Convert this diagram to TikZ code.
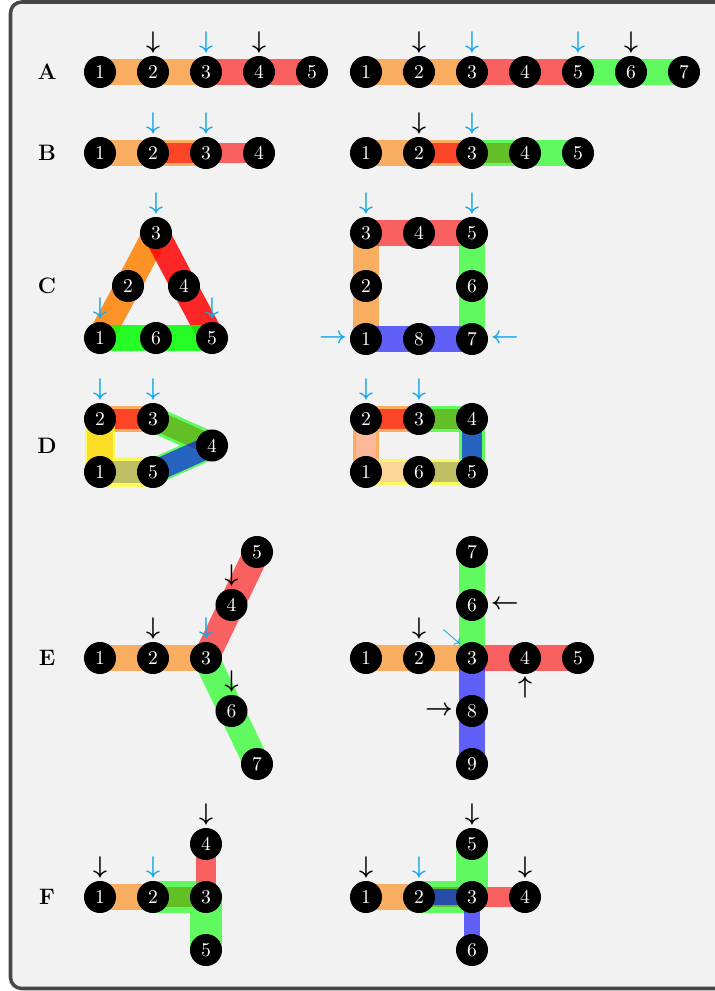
\RequirePackage{fix-cm}
\documentclass[tikz,border=0pt]{standalone}
\usetikzlibrary{calc}
\pgfdeclarelayer{bg}
\pgfdeclarelayer{back}
\pgfsetlayers{bg,back,main}
\definecolor{bgc}{HTML}{F2F2F2}
\definecolor{framec}{HTML}{474747}
\definecolor{arrc}{RGB}{20,168,235}
\definecolor{myorange}{RGB}{255,128,0}
\definecolor{myred}{RGB}{255,0,0}
\definecolor{mygreen}{RGB}{0,255,0}
\definecolor{myblue}{RGB}{0,0,255}
\definecolor{myyellow}{RGB}{255,255,0}
\definecolor{mypink}{RGB}{255,191,191}
\tikzset{
  st/.style={circle,fill=black,text=white,minimum size=17.2pt,inner sep=0pt,font=\fontsize{10.5}{12}\selectfont},
  rowlab/.style={font=\fontsize{12}{14}\selectfont\bfseries},
  rt/.style={line cap=round,line join=round,draw opacity=0.6},
  rtd/.style={line cap=round,line join=round,draw opacity=0.84},
  w26/.style={line width=13.95pt},
  w20/.style={line width=10.73pt},
  w32/.style={line width=17.17pt},
  w16/.style={line width=8.59pt},
  w30/.style={line width=16.1pt},
  w22/.style={line width=11.8pt},
  arrfont/.style={inner sep=0pt,font=\fontsize{13}{15}\selectfont\boldmath},
  dn/.style={arrfont,anchor=south,yshift=1.2pt},
  upa/.style={arrfont,anchor=north,yshift=-1.2pt},
  lefta/.style={arrfont,anchor=east,xshift=-1.2pt},
  righta/.style={arrfont,anchor=west,xshift=1.2pt},
  nwa/.style={inner sep=0pt,font=\fontsize{9}{11}\selectfont\boldmath,anchor=south east,xshift=0.8pt,yshift=0.8pt},
}
\newcommand\dnarr[2]{\node[dn,text=#2] (#1d) at (#1.north) {$\downarrow$};}
\begin{document}
\begin{tikzpicture}[x=0.018868cm,y=-0.018868cm]
\useasboundingbox (0,0) rectangle (715,991);
\begin{pgfonlayer}{bg}
\draw[framec,line width=1.9pt,fill=bgc,rounded corners=6pt] (10.5,2) rectangle (745,988.5);
\end{pgfonlayer}

% row labels
\node[rowlab] (LA) at (47,72) {A};
\node[rowlab] (LB) at (47,153) {B};
\node[rowlab] (LC) at (47,286) {C};
\node[rowlab] (LD) at (47,446) {D};
\node[rowlab] (LE) at (47,658) {E};
\node[rowlab] (LF) at (47,897) {F};

% ---------- nodes ----------
\foreach \i/\x in {1/100,2/153,3/206,4/259,5/312} \node[st] (A\i) at (\x,72) {\i};
\foreach \i/\x in {1/366,2/419,3/472,4/525,5/578,6/631,7/684} \node[st] (a\i) at (\x,72) {\i};
\foreach \i/\x in {1/100,2/153,3/206,4/259} \node[st] (B\i) at (\x,153) {\i};
\foreach \i/\x in {1/366,2/419,3/472,4/525,5/578} \node[st] (b\i) at (\x,153) {\i};
% C left
\node[st] (C1) at (100,338) {1};
\node[st] (C2) at (128,286) {2};
\node[st] (C3) at (156,233) {3};
\node[st] (C4) at (184,286) {4};
\node[st] (C5) at (212,338) {5};
\node[st] (C6) at (156,338) {6};
% C right
\node[st] (c3) at (366,233) {3};
\node[st] (c4) at (419,233) {4};
\node[st] (c5) at (472,233) {5};
\node[st] (c2) at (366,286) {2};
\node[st] (c6) at (472,286) {6};
\node[st] (c1) at (366,339) {1};
\node[st] (c8) at (419,339) {8};
\node[st] (c7) at (472,339) {7};
% D left
\node[st] (D2) at (100,419) {2};
\node[st] (D3) at (153,419) {3};
\node[st] (D4) at (212,445.5) {4};
\node[st] (D1) at (100,472) {1};
\node[st] (D5) at (153,472) {5};
% D right
\node[st] (d2) at (366,419) {2};
\node[st] (d3) at (419,419) {3};
\node[st] (d4) at (472,419) {4};
\node[st] (d1) at (366,472) {1};
\node[st] (d6) at (419,472) {6};
\node[st] (d5) at (472,472) {5};
% E left
\node[st] (E1) at (100,658) {1};
\node[st] (E2) at (153,658) {2};
\node[st] (E3) at (206,658) {3};
\node[st] (E4) at (231.5,605) {4};
\node[st] (E5) at (257,552) {5};
\node[st] (E6) at (231.5,711) {6};
\node[st] (E7) at (257,764) {7};
% E right
\foreach \i/\x in {1/366,2/419,3/472,4/525,5/578} \node[st] (e\i) at (\x,658) {\i};
\node[st] (e6) at (472,605) {6};
\node[st] (e7) at (472,552) {7};
\node[st] (e8) at (472,711) {8};
\node[st] (e9) at (472,764) {9};
% F left
\node[st] (F1) at (100,897) {1};
\node[st] (F2) at (153,897) {2};
\node[st] (F3) at (206,897) {3};
\node[st] (F4) at (206,844) {4};
\node[st] (F5) at (206,950) {5};
% F right
\node[st] (f1) at (366,897) {1};
\node[st] (f2) at (419,897) {2};
\node[st] (f3) at (472,897) {3};
\node[st] (f4) at (525,897) {4};
\node[st] (f5) at (472,844) {5};
\node[st] (f6) at (472,950) {6};

% ---------- routes ----------
\begin{pgfonlayer}{back}
% A
\draw[rt,w26,draw=myorange] (A1.center) -- (A2.center) -- (A3.center);
\draw[rt,w26,draw=myred] (A3.center) -- (A4.center) -- (A5.center);
\draw[rt,w26,draw=myorange] (a1.center) -- (a2.center) -- (a3.center);
\draw[rt,w26,draw=myred] (a3.center) -- (a4.center) -- (a5.center);
\draw[rt,w26,draw=mygreen] (a5.center) -- (a6.center) -- (a7.center);
% B
\draw[rt,w26,draw=myorange] (B1.center) -- (B2.center) -- (B3.center);
\draw[rt,w20,draw=myred] (B2.center) -- (B3.center) -- (B4.center);
\draw[rt,w26,draw=myorange] (b1.center) -- (b2.center) -- (b3.center);
\draw[rt,w20,draw=myred] (b2.center) -- (b3.center) -- (b4.center);
\draw[rt,w26,draw=mygreen] (b3.center) -- (b4.center) -- (b5.center);
% C
\draw[rtd,w26,draw=myorange] (C1.center) -- (C2.center) -- (C3.center);
\draw[rtd,w26,draw=myred] (C3.center) -- (C4.center) -- (C5.center);
\draw[rtd,w26,draw=mygreen] (C5.center) -- (C6.center) -- (C1.center);
\draw[rt,w26,draw=myorange] (c1.center) -- (c2.center) -- (c3.center);
\draw[rt,w26,draw=myred] (c3.center) -- (c4.center) -- (c5.center);
\draw[rt,w26,draw=mygreen] (c5.center) -- (c6.center) -- (c7.center);
\draw[rt,w26,draw=myblue] (c7.center) -- (c8.center) -- (c1.center);
% D left
\draw[rt,w26,draw=myorange] (D1.center) -- (D2.center) -- (D3.center);
\draw[rt,w20,draw=myred] (D2.center) -- (D3.center) -- (D4.center);
\draw[rt,w26,draw=mygreen] (D3.center) -- (D4.center) -- (D5.center);
\draw[rt,w22,draw=myblue] (D4.center) -- (D5.center) -- (D1.center);
\draw[rt,w30,draw=myyellow] (D5.center) -- (D1.center) -- (D2.center);
% D right
\draw[rt,w26,draw=myorange] (d1.center) -- (d2.center) -- (d3.center);
\draw[rt,w20,draw=myred] (d2.center) -- (d3.center) -- (d4.center);
\draw[rt,w26,draw=mygreen] (d3.center) -- (d4.center) -- (d5.center);
\draw[rt,w20,draw=myblue] (d4.center) -- (d5.center) -- (d6.center);
\draw[rt,w26,draw=myyellow] (d5.center) -- (d6.center) -- (d1.center);
\draw[rt,w20,draw=mypink] (d6.center) -- (d1.center) -- (d2.center);
% E
\draw[rt,w26,draw=myorange] (E1.center) -- (E2.center) -- (E3.center);
\draw[rt,w26,draw=myred] (E3.center) -- (E4.center) -- (E5.center);
\draw[rt,w26,draw=mygreen] (E3.center) -- (E6.center) -- (E7.center);
\draw[rt,w26,draw=myorange] (e1.center) -- (e2.center) -- (e3.center);
\draw[rt,w26,draw=myred] (e3.center) -- (e4.center) -- (e5.center);
\draw[rt,w26,draw=mygreen] (e3.center) -- (e6.center) -- (e7.center);
\draw[rt,w26,draw=myblue] (e3.center) -- (e8.center) -- (e9.center);
% F
\draw[rt,w26,draw=myorange] (F1.center) -- (F2.center);
\draw[rt,w20,draw=myred] (F2.center) -- (F3.center) -- (F4.center);
\draw[rt,w32,draw=mygreen] (F2.center) -- (F3.center) -- (F5.center);
\draw[rt,w26,draw=myorange] (f1.center) -- (f2.center);
\draw[rt,w20,draw=myred] (f2.center) -- (f3.center) -- (f4.center);
\draw[rt,w32,draw=mygreen] (f2.center) -- (f3.center) -- (f5.center);
\draw[rt,w16,draw=myblue] (f2.center) -- (f3.center) -- (f6.center);
\end{pgfonlayer}

% ---------- arrows ----------
\dnarr{A2}{black}\dnarr{A3}{arrc}\dnarr{A4}{black}
\dnarr{a2}{black}\dnarr{a3}{arrc}\dnarr{a5}{arrc}\dnarr{a6}{black}
\dnarr{B2}{arrc}\dnarr{B3}{arrc}
\dnarr{b2}{black}\dnarr{b3}{arrc}
\dnarr{C3}{arrc}\dnarr{C1}{arrc}\dnarr{C5}{arrc}
\dnarr{c3}{arrc}\dnarr{c5}{arrc}
\node[lefta,text=arrc] (c1r) at (c1.west) {$\rightarrow$};
\node[righta,text=arrc] (c7l) at (c7.east) {$\leftarrow$};
\dnarr{D2}{arrc}\dnarr{D3}{arrc}
\dnarr{d2}{arrc}\dnarr{d3}{arrc}
\dnarr{E2}{black}\dnarr{E3}{arrc}\dnarr{E4}{black}\dnarr{E6}{black}
\dnarr{e2}{black}
\node[nwa,text=arrc] (e3s) at (e3.north west) {$\searrow$};
\node[righta,text=black] (e6l) at (e6.east) {$\leftarrow$};
\node[lefta,text=black] (e8r) at (e8.west) {$\rightarrow$};
\node[upa,text=black] (e4u) at (e4.south) {$\uparrow$};
\dnarr{F1}{black}\dnarr{F2}{arrc}\dnarr{F4}{black}
\dnarr{f1}{black}\dnarr{f2}{arrc}\dnarr{f5}{black}\dnarr{f4}{black}
\end{tikzpicture}
\end{document}
